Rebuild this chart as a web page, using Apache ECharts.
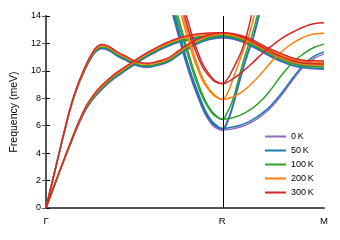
<!DOCTYPE html>
<html><head><meta charset="utf-8">
<script src="https://cdn.jsdelivr.net/npm/echarts@6/dist/echarts.min.js"></script>
<style>html,body{margin:0;padding:0;background:#fff}#c{width:340px;height:240px}</style>
</head><body><div id="c"></div>
<script>
// Temperatures, colours
const tempLabels = ['0\u2009K', '50\u2009K', '100\u2009K', '200\u2009K', '300\u2009K'];
const tempColors = ['#9467bd', '#1f77b4', '#2ca02c', '#ff7f0e', '#d62728'];

// High-symmetry points (path distance)
const kR = 0.866, kM = 1.366;
const pointNames = ['Γ', 'R', 'M'];
const pointPos = [0, kR, kM];

// k grids
const kAcoustic = [0, 0.05, 0.1, 0.125, 0.15, 0.175, 0.2, 0.225, 0.25, 0.275, 0.3, 0.325, 0.35, 0.4, 0.45, 0.5, 0.55, 0.6, 0.65, 0.7, 0.75, 0.8, 0.85, 0.866,
  0.916, 0.966, 1.016, 1.066, 1.116, 1.166, 1.216, 1.266, 1.316, 1.366];
const kSoftSteep = [0.6, 0.65, 0.7, 0.75, 0.8, 0.85, 0.866, 0.891, 0.916, 0.941, 0.966, 0.991, 1.016, 1.041, 1.066];
const kSoftGentle = [0.6, 0.65, 0.7, 0.75, 0.8, 0.85, 0.866, 0.916, 0.966, 1.016, 1.066, 1.116, 1.166, 1.216, 1.266, 1.316, 1.366];

// Branch 1 (steep acoustic Γ-R, continuing R-M upper)
const band1_0K   = [0, 3.1, 6.12, 7.49, 8.60, 9.52, 10.33, 10.99, 11.45, 11.62, 11.54, 11.33, 11.08, 10.70, 10.35, 10.25, 10.40, 10.64, 11.13, 11.61, 12.00, 12.26, 12.40, 12.42, 12.36, 12.19, 11.89, 11.49, 11.13, 10.83, 10.55, 10.41, 10.36, 10.34];
const band1_50K  = [0, 3.1, 6.13, 7.50, 8.62, 9.54, 10.36, 11.02, 11.49, 11.66, 11.58, 11.37, 11.12, 10.74, 10.39, 10.29, 10.44, 10.68, 11.17, 11.65, 12.04, 12.30, 12.44, 12.46, 12.40, 12.23, 11.93, 11.53, 11.17, 10.87, 10.59, 10.45, 10.40, 10.38];
const band1_100K = [0, 3.1, 6.15, 7.53, 8.66, 9.59, 10.42, 11.09, 11.57, 11.74, 11.66, 11.45, 11.20, 10.82, 10.47, 10.37, 10.52, 10.76, 11.25, 11.74, 12.13, 12.40, 12.54, 12.56, 12.50, 12.33, 12.03, 11.63, 11.28, 10.98, 10.70, 10.56, 10.51, 10.50];
const band1_200K = [0, 3.1, 6.18, 7.57, 8.71, 9.65, 10.49, 11.18, 11.67, 11.84, 11.76, 11.55, 11.30, 10.92, 10.57, 10.47, 10.62, 10.86, 11.36, 11.85, 12.25, 12.52, 12.66, 12.68, 12.62, 12.45, 12.15, 11.75, 11.40, 11.10, 10.82, 10.68, 10.63, 10.62];
const band1_300K = [0, 3.1, 6.2, 7.6, 8.75, 9.7, 10.55, 11.25, 11.75, 11.92, 11.84, 11.63, 11.38, 11.0, 10.65, 10.55, 10.7, 10.95, 11.45, 11.95, 12.35, 12.62, 12.76, 12.78, 12.72, 12.55, 12.25, 11.85, 11.5, 11.2, 10.92, 10.78, 10.73, 10.72];

// Branch 2 (lower acoustic Γ-R, continuing R-M lower)
const band2_0K   = [0, 2.0, 3.92, 4.84, 5.75, 6.56, 7.28, 7.81, 8.25, 8.65, 9.0, 9.32, 9.6, 10.1, 10.6, 11.05, 11.45, 11.79, 12.06, 12.23, 12.35, 12.40, 12.42, 12.42, 12.32, 12.09, 11.74, 11.34, 10.94, 10.62, 10.36, 10.22, 10.15, 10.12];
const band2_50K  = [0, 2.0, 3.93, 4.85, 5.77, 6.59, 7.31, 7.85, 8.29, 8.69, 9.04, 9.36, 9.64, 10.14, 10.64, 11.09, 11.49, 11.83, 12.1, 12.27, 12.39, 12.44, 12.46, 12.46, 12.36, 12.13, 11.78, 11.38, 10.98, 10.66, 10.40, 10.26, 10.19, 10.16];
const band2_100K = [0, 2.0, 3.95, 4.88, 5.81, 6.64, 7.37, 7.92, 8.37, 8.77, 9.12, 9.44, 9.72, 10.22, 10.72, 11.17, 11.57, 11.91, 12.18, 12.36, 12.48, 12.54, 12.56, 12.56, 12.46, 12.23, 11.88, 11.48, 11.08, 10.76, 10.50, 10.36, 10.30, 10.28];
const band2_200K = [0, 2.0, 3.98, 4.92, 5.86, 6.70, 7.44, 8.0, 8.47, 8.87, 9.22, 9.54, 9.82, 10.32, 10.82, 11.27, 11.67, 12.01, 12.29, 12.47, 12.6, 12.66, 12.68, 12.68, 12.58, 12.35, 12.0, 11.6, 11.2, 10.88, 10.62, 10.48, 10.42, 10.4];
const band2_300K = [0, 2.0, 4.0, 4.95, 5.9, 6.75, 7.5, 8.07, 8.55, 8.95, 9.3, 9.62, 9.9, 10.4, 10.9, 11.35, 11.75, 12.1, 12.38, 12.57, 12.7, 12.76, 12.78, 12.78, 12.68, 12.45, 12.1, 11.7, 11.3, 10.98, 10.72, 10.58, 10.52, 10.5];

// Soft mode, steep branch on R-M
const soft1_0K   = [15.7, 13.0, 10.3, 8.2, 6.55, 5.76, 5.68, 6.22, 7.28, 8.63, 9.98, 11.2, 12.25, 13.65, 15.1];
const soft1_50K  = [15.8, 13.1, 10.4, 8.3, 6.65, 5.88, 5.8, 6.35, 7.4, 8.75, 10.1, 11.3, 12.35, 13.75, 15.2];
const soft1_100K = [16.5, 13.9, 11.3, 9.0, 7.35, 6.55, 6.47, 7.0, 7.8, 9.1, 10.5, 11.7, 12.8, 14.2, 15.6];
const soft1_200K = [17.5, 15.3, 12.6, 10.2, 8.7, 8.0, 7.93, 8.35, 9.3, 10.3, 11.35, 12.3, 13.6, 15.0, 16.5];
const soft1_300K = [18.8, 16.3, 13.5, 11.2, 9.8, 9.12, 9.07, 9.4, 10.05, 10.8, 11.65, 12.9, 14.5, 16.2, 18.0];

// Soft mode, gentle branch on R-M
const soft2_0K   = [15.3, 12.6, 10.0, 7.95, 6.4, 5.73, 5.68, 5.77, 5.96, 6.3, 6.8, 7.5, 8.4, 9.4, 10.3, 10.9, 11.22];
const soft2_50K  = [15.4, 12.7, 10.1, 8.05, 6.5, 5.85, 5.8, 5.9, 6.1, 6.45, 6.95, 7.65, 8.55, 9.55, 10.45, 11.05, 11.37];
const soft2_100K = [16.0, 13.5, 11.0, 8.75, 7.25, 6.53, 6.47, 6.58, 6.85, 7.3, 7.95, 8.85, 9.85, 10.65, 11.25, 11.7, 11.95];
const soft2_200K = [17.0, 14.8, 12.2, 9.95, 8.6, 7.98, 7.93, 8.1, 8.5, 9.15, 9.95, 10.8, 11.5, 12.05, 12.45, 12.68, 12.75];
const soft2_300K = [18.3, 15.9, 13.0, 10.9, 9.65, 9.1, 9.07, 9.4, 9.95, 10.6, 11.3, 11.9, 12.45, 12.85, 13.2, 13.43, 13.5];

const bandsByTemp = [
  [band1_0K, band2_0K, soft1_0K, soft2_0K],
  [band1_50K, band2_50K, soft1_50K, soft2_50K],
  [band1_100K, band2_100K, soft1_100K, soft2_100K],
  [band1_200K, band2_200K, soft1_200K, soft2_200K],
  [band1_300K, band2_300K, soft1_300K, soft2_300K]
];
const kGrids = [kAcoustic, kAcoustic, kSoftSteep, kSoftGentle];

const FONT = "'Liberation Sans', Arial, sans-serif";
const series = [];
bandsByTemp.forEach((bands, ti) => {
  bands.forEach((vals, bi) => {
    series.push({
      type: 'line', name: tempLabels[ti], smooth: 0.5, showSymbol: false, symbol: 'none',
      color: tempColors[ti],
      lineStyle: { color: tempColors[ti], width: 1.5 },
      data: vals.map((v, i) => [kGrids[bi][i], v]),
      clip: true, silent: true, z: 2
    });
  });
});
series[0].markLine = {
  silent: true, symbol: ['none', 'none'], label: { show: false },
  lineStyle: { color: '#000', width: 1, type: 'solid' },
  data: [{ xAxis: kR }], animation: false
};

const chart = echarts.init(document.getElementById('c'), null, { renderer: 'canvas' });
chart.setOption({
  animation: false,
  textStyle: { fontFamily: FONT },
  grid: { left: 46, right: 16, top: 16, bottom: 32, containLabel: false },
  legend: {
    data: tempLabels, orient: 'vertical', left: 265, top: 131, padding: 0,
    icon: 'rect', itemWidth: 21, itemHeight: 2, itemGap: 3,
    textStyle: { fontSize: 9, lineHeight: 11, color: '#000', fontFamily: FONT }
  },
  xAxis: [{
    type: 'value', min: 0, max: kM, position: 'bottom',
    axisLine: { lineStyle: { color: '#000', width: 1 } },
    axisTick: { show: false }, splitLine: { show: false },
    axisLabel: {
      customValues: pointPos, margin: 8, fontSize: 9.5, color: '#000', fontFamily: FONT,
      formatter: v => { let best = 0; pointPos.forEach((p, i) => { if (Math.abs(p - v) < Math.abs(pointPos[best] - v)) best = i; }); return pointNames[best]; }
    }
  }, {
    type: 'value', min: 0, max: kM, position: 'top',
    axisLine: { lineStyle: { color: '#555', width: 2 } },
    axisTick: { show: false }, axisLabel: { show: false }, splitLine: { show: false }
  }],
  yAxis: [{
    type: 'value', min: 0, max: 14, interval: 2, position: 'left',
    name: 'Frequency (meV)', nameLocation: 'middle', nameGap: 26,
    nameTextStyle: { fontSize: 10.5, color: '#000', fontFamily: FONT },
    axisLine: { show: true, lineStyle: { color: '#000', width: 1 } },
    axisTick: { show: true, inside: true, length: 4, lineStyle: { color: '#000' } },
    axisLabel: { fontSize: 9, color: '#000', margin: 5, fontFamily: FONT },
    splitLine: { show: false }
  }, {
    type: 'value', min: 0, max: 14, interval: 2, position: 'right',
    axisLine: { show: true, lineStyle: { color: '#555', width: 2 } },
    axisTick: { show: true, inside: true, length: 4, lineStyle: { color: '#555' } },
    axisLabel: { show: false }, splitLine: { show: false }
  }],
  series: series
});
</script>
</body></html>
